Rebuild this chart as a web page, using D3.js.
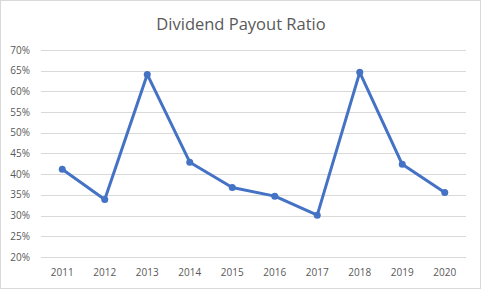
<!DOCTYPE html>
<html>
<head>
<meta charset="utf-8">
<script src="https://d3js.org/d3.v7.min.js"></script>
<style>
  body { margin: 0; background: #fff; }
  text { font-family: "Open Sans", "Liberation Sans", sans-serif; fill: #595959; }
</style>
</head>
<body>
<div id="chart"></div>
<script>
  const years = ['2011', '2012', '2013', '2014', '2015', '2016', '2017', '2018', '2019', '2020'];
  const payout = [0.412, 0.339, 0.641, 0.429, 0.368, 0.347, 0.301, 0.646, 0.424, 0.356];
  const yTicks = [0.20, 0.25, 0.30, 0.35, 0.40, 0.45, 0.50, 0.55, 0.60, 0.65, 0.70];

  const width = 481, height = 289;
  const margin = { top: 50, right: 15, bottom: 32, left: 41 };

  const svg = d3.select('#chart')
    .append('svg')
    .attr('width', width)
    .attr('height', height);

  // chart border
  svg.append('rect')
    .attr('x', 0.5).attr('y', 0.5)
    .attr('width', width - 1).attr('height', height - 1)
    .attr('fill', '#fff')
    .attr('stroke', '#d9d9d9');

  svg.append('text')
    .attr('x', 241)
    .attr('y', 30)
    .attr('text-anchor', 'middle')
    .attr('font-size', '16.5px')
    .text('Dividend Payout Ratio');

  const x = d3.scaleBand()
    .domain(years)
    .range([margin.left, width - margin.right]);

  const y = d3.scaleLinear()
    .domain([0.20, 0.70])
    .range([height - margin.bottom, margin.top]);

  // gridlines
  svg.append('g')
    .selectAll('line')
    .data(yTicks)
    .enter()
    .append('line')
    .attr('x1', margin.left)
    .attr('x2', width - margin.right)
    .attr('y1', d => Math.round(y(d)) + 0.5)
    .attr('y2', d => Math.round(y(d)) + 0.5)
    .attr('stroke', '#d9d9d9')
    .attr('stroke-width', 1);

  // y labels
  svg.append('g')
    .selectAll('text')
    .data(yTicks)
    .enter()
    .append('text')
    .attr('x', 30)
    .attr('y', d => y(d))
    .attr('dy', '0.35em')
    .attr('text-anchor', 'end')
    .attr('font-size', '10px')
    .text(d3.format('.0%'));

  // x labels
  svg.append('g')
    .selectAll('text')
    .data(years)
    .enter()
    .append('text')
    .attr('x', d => x(d) + x.bandwidth() / 2)
    .attr('y', 272)
    .attr('dy', '0.35em')
    .attr('text-anchor', 'middle')
    .attr('font-size', '10px')
    .text(d => d);

  const pts = years.map((yr, i) => [x(yr) + x.bandwidth() / 2, y(payout[i])]);

  svg.append('path')
    .datum(pts)
    .attr('d', d3.line())
    .attr('fill', 'none')
    .attr('stroke', '#4472c4')
    .attr('stroke-width', 3)
    .attr('stroke-linejoin', 'round');

  svg.append('g')
    .selectAll('circle')
    .data(pts)
    .enter()
    .append('circle')
    .attr('cx', d => d[0])
    .attr('cy', d => d[1])
    .attr('r', 3.5)
    .attr('fill', '#4472c4');
</script>
</body>
</html>
